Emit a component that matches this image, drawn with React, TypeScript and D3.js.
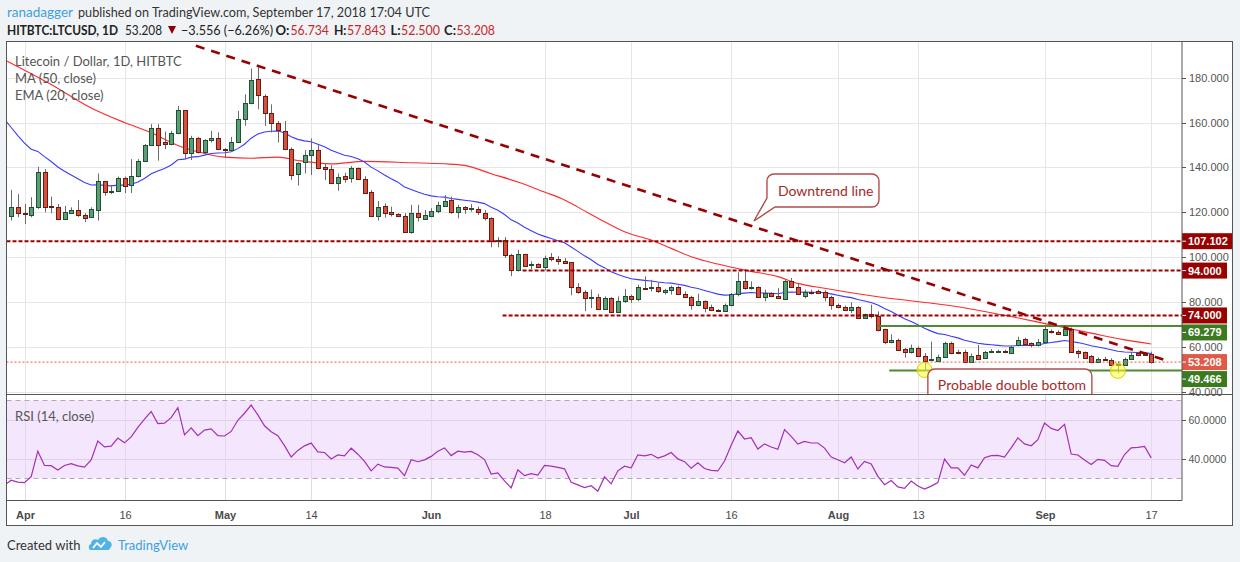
import React from 'react';
import * as d3 from 'd3';

// ---------- DATA ----------
const firstCandleDate = '2018-03-30';

const opens = [
  118.5,122.5,119.6,119.0,122.5,138.1,123.0,122.5,117.0,119.7,
  121.0,119.0,118.1,121.0,133.8,129.3,129.7,135.3,132.3,136.0,
  143.0,150.1,157.5,151.4,150.4,155.3,165.5,146.4,153.3,146.7,
  152.1,153.3,148.1,147.7,151.4,161.5,168.9,179.3,171.9,164.1,
  159.7,156.3,148.1,137.0,142.2,145.5,147.7,140.0,139.1,132.9,
  136.1,135.1,139.6,134.7,128.9,118.5,123.0,120.0,119.1,118.5,
  111.4,119.6,117.0,118.5,120.6,123.0,125.5,120.3,122.2,121.6,
  121.3,119.6,117.3,107.3,107.7,101.0,94.1,101.5,96.4,97.0,
  95.6,99.9,99.3,98.4,97.8,86.7,84.4,81.6,82.2,76.9,
  81.8,75.6,80.6,82.8,81.3,86.4,86.1,86.7,84.4,85.2,
  86.7,83.7,82.2,78.7,80.4,77.8,76.6,76.0,78.7,83.7,
  89.3,86.1,86.7,82.2,84.0,82.8,81.3,89.3,86.7,82.8,
  84.6,84.7,84.3,82.2,78.8,77.8,76.4,77.8,72.7,74.7,
  73.9,67.9,62.0,63.1,59.1,57.6,59.4,56.1,54.0,53.9,
  55.4,61.6,57.9,57.9,53.2,56.4,55.0,57.6,57.9,58.2,
  57.2,60.6,63.5,61.6,60.9,62.2,67.1,66.7,65.3,67.9,
  58.2,57.6,55.7,53.2,54.6,54.2,52.3,52.0,54.5,57.2,
  56.5,56.734,
];
const highs = [
  130.0,128.1,123.7,126.7,140.3,139.3,127.0,123.7,122.8,122.2,
  125.5,119.6,122.2,137.3,133.8,131.9,135.9,135.9,143.7,143.7,
  150.4,159.3,159.3,156.0,156.3,167.4,165.5,154.1,153.6,152.6,
  156.3,155.6,148.6,153.6,165.2,172.6,184.1,184.7,172.6,168.1,
  160.7,160.7,148.9,142.2,147.7,152.9,149.9,141.8,141.0,137.3,
  137.6,140.6,140.0,136.1,129.9,125.0,124.0,122.5,119.6,119.6,
  123.3,123.3,121.0,121.8,124.7,127.7,127.0,123.3,122.8,123.7,
  122.5,121.0,117.8,108.9,108.9,101.5,103.3,101.5,98.1,97.3,
  100.6,101.8,100.4,99.6,97.8,88.4,85.2,85.5,83.6,82.5,
  82.2,82.5,85.8,83.3,87.7,91.4,89.9,88.7,85.9,87.3,
  87.3,84.7,82.8,83.7,80.7,78.8,76.9,79.3,84.0,93.2,
  94.7,89.2,87.0,85.5,84.3,86.2,89.9,90.7,88.4,85.5,
  85.5,85.5,85.2,82.8,79.3,78.4,79.9,78.1,74.8,78.8,
  75.8,68.1,65.6,63.7,59.5,61.0,60.2,57.2,62.3,56.5,
  62.3,62.3,58.7,58.7,57.0,60.9,58.2,59.0,58.7,58.7,
  60.5,64.5,64.0,62.0,63.5,69.3,67.8,67.4,69.5,68.6,
  58.7,57.9,56.4,55.2,55.5,54.9,53.5,55.2,57.5,57.8,
  57.6,57.843,
];
const lows = [
  116.3,117.8,114.8,117.8,121.5,120.0,119.6,116.6,116.6,119.3,
  118.0,115.6,117.8,116.3,127.4,128.1,129.4,128.6,128.6,135.6,
  142.7,149.6,143.0,148.1,149.9,154.8,143.7,143.3,146.2,146.2,
  151.1,147.7,144.1,147.0,151.1,158.5,168.1,165.9,158.5,155.6,
  151.1,147.7,134.4,131.9,137.3,136.6,139.1,134.4,132.6,129.6,
  133.2,133.2,134.4,128.1,118.1,116.3,117.6,118.1,117.8,111.0,
  110.4,115.9,116.6,117.8,119.6,122.5,119.3,117.3,119.3,120.3,
  118.8,116.3,104.4,104.4,99.6,91.5,93.6,95.6,94.7,95.1,
  94.1,98.1,96.6,97.0,83.0,83.7,75.9,77.3,76.6,76.6,
  75.4,75.1,79.6,79.6,80.3,85.5,84.7,84.0,83.3,83.3,
  83.3,81.8,76.6,78.1,75.4,75.9,75.7,75.7,78.1,82.5,
  85.5,85.5,81.8,80.3,82.2,81.5,81.0,86.2,83.3,81.6,
  83.3,83.7,80.3,76.6,77.2,75.9,75.1,72.4,72.4,72.7,
  66.9,61.2,61.6,58.2,55.2,57.0,55.7,49.8,53.7,53.5,
  55.2,56.7,56.7,53.0,53.0,54.2,54.6,57.2,57.6,57.2,
  56.8,60.2,60.8,59.8,60.2,61.9,65.9,65.5,64.9,57.5,
  54.9,54.9,52.7,52.7,53.8,51.5,48.3,51.7,54.2,55.8,
  55.9,52.5,
];
const closes = [
  122.5,119.7,119.1,122.2,138.1,122.5,122.2,117.0,119.9,121.0,
  118.8,117.5,121.5,133.8,129.2,129.7,135.3,131.9,136.0,143.0,
  150.1,157.5,150.1,150.4,155.3,165.5,146.4,153.3,146.7,152.1,
  153.3,148.0,147.7,151.4,161.5,168.9,178.8,172.3,164.4,159.7,
  156.6,148.1,136.6,141.8,145.5,147.7,139.6,139.1,132.9,135.6,
  134.7,139.6,134.7,128.4,118.5,122.5,119.6,119.1,118.5,111.1,
  119.6,117.8,118.8,120.6,123.3,125.0,120.0,122.2,121.6,121.9,
  120.0,117.3,107.3,107.7,101.0,94.1,101.5,96.1,97.0,95.6,
  99.6,99.1,98.2,97.3,86.7,84.3,81.6,82.2,76.9,81.8,
  75.6,80.6,82.5,81.3,86.7,86.1,86.7,84.7,85.5,86.7,
  83.6,82.2,78.7,80.4,77.3,76.3,76.0,78.7,83.7,89.3,
  86.2,86.7,82.1,84.0,82.7,81.8,89.3,86.7,83.6,84.6,
  84.0,84.0,82.2,78.7,77.6,76.3,77.8,72.7,74.7,73.6,
  67.4,62.0,63.1,58.7,57.6,59.4,56.1,53.9,54.6,55.4,
  61.6,57.2,57.2,53.2,56.1,54.6,57.6,58.2,58.3,57.6,
  60.1,63.1,61.2,60.6,62.3,67.9,66.4,65.8,67.9,57.8,
  57.4,55.2,53.2,54.6,54.2,52.0,51.7,54.6,56.4,56.5,
  56.764,53.208,
];

// MA(50): candle index -> value
const ma50Index = [-1, 6, 12, 17, 21, 25, 28, 32, 36, 40, 43, 48, 53, 60, 65, 68, 72, 76, 80, 83, 85, 89, 92, 96, 99, 102, 106, 110, 115, 118, 122, 126, 130, 142, 150, 156, 162, 167, 171];
const ma50Values = [188, 177, 166.5, 160, 155.5, 149.8, 147, 144.6, 144.1, 144.6, 143.1, 141.6, 142.7, 142.1, 141.6, 140.9, 137.2, 133.5, 129, 125.5, 122.3, 115.8, 111.3, 107.6, 103.9, 100.2, 96.9, 94.2, 91.3, 88.3, 86.1, 84.1, 82.3, 77.9, 73.5, 69.8, 66.1, 63.1, 61.3];

// seeds of the indicators (state on the day before the first candle)
const emaSeed = 161.5;
const rsiSeedPrevClose = 119.6;
const rsiSeedGain = 1.658;
const rsiSeedLoss = 4.6;

const priceTicks = [40, 60, 80, 100, 120, 140, 160, 180];
const rsiTicks = [40, 60];
const timeTickDates = ['2018-04-01', '2018-04-16', '2018-05-01', '2018-05-14', '2018-06-01', '2018-06-18', '2018-07-01', '2018-07-16', '2018-08-01', '2018-08-13', '2018-09-01', '2018-09-17'];
const timeTickLabels = ['Apr', '16', 'May', '14', 'Jun', '18', 'Jul', '16', 'Aug', '13', 'Sep', '17'];
const timeTickIsMonth = [true, false, true, false, true, false, true, false, true, false, true, false];

// horizontal levels
const levelPrices = [107.102, 94.0, 74.0, 69.279, 49.466];
const levelStarts = ['2018-03-25', '2018-06-14T17:00:00Z', '2018-06-11T17:00:00Z', '2018-08-07T00:00:00Z', '2018-08-08T17:00:00Z'];
const levelKinds = ['res', 'res', 'res', 'sup', 'sup'];
const lastPrice = 53.208;

// downtrend line anchors
const trendDates = ['2018-04-26T17:00:00Z', '2018-09-19T09:00:00Z'];
const trendPrices = [194.2, 53.8];

// annotations
const circleDates = ['2018-08-14', '2018-09-12'];
const circlePrices = [49.7, 49.3];
const calloutText = 'Downtrend line';
const calloutTipDate = '2018-07-19T10:00:00Z';
const calloutTipPrice = 116.1;
const noteText = 'Probable double bottom';
const noteDate = '2018-08-14T12:00:00Z';
const notePrice = 50.1;

// ---------- LAYOUT ----------
const W = 1240;
const H = 562;
const PL = 6.5;
const PR = 1182;
const FR = 1232.5;
const MT = 41.5;
const MB = 394.5;
const RB = 500.5;
const FB = 525.5;

const FONT = 'Lato, "Open Sans", sans-serif';
const AXFONT = '"Liberation Sans", Arial, sans-serif';

const UP_FILL = '#5a9e77';
const UP_STROKE = '#1f5130';
const DN_FILL = '#d6503d';
const DN_STROKE = '#6e1a10';
const WICK = '#6b6b6b';
const RES = '#990000';
const SUP = '#3b7a1f';

const toDate = (s: string) => new Date(s.length === 10 ? s + 'T00:00:00Z' : s);

export default function App() {
  const start = toDate(firstCandleDate);
  const dates = closes.map((_, k) => d3.utcDay.offset(start, k));
  const x = d3.scaleUtc().domain([toDate('2018-04-01'), toDate('2018-09-17')]).range([24.5, 1151.2]);
  const y = d3.scaleLinear().domain([40, 180]).range([391.7, 77.7]);
  const yr = d3.scaleLinear().domain([30, 70]).range([478.3, 400.3]);
  const dateOf = (k: number) => d3.utcDay.offset(start, k);

  // EMA 20
  const alpha = 2 / 21;
  const ema: [number, number][] = [[-1, emaSeed]];
  let e = emaSeed;
  closes.forEach((c, k) => {
    e = e + alpha * (c - e);
    ema.push([k, e]);
  });
  // RSI 14 (Wilder)
  let g = rsiSeedGain, l = rsiSeedLoss, prev = rsiSeedPrevClose;
  const rsi: [number, number][] = [[-1, 100 - 100 / (1 + g / l)]];
  closes.forEach((c, k) => {
    const ch = c - prev;
    g = (g * 13 + Math.max(ch, 0)) / 14;
    l = (l * 13 + Math.max(-ch, 0)) / 14;
    rsi.push([k, 100 - 100 / (1 + g / l)]);
    prev = c;
  });

  const lineIdx = d3.line<[number, number]>().x((d) => x(dateOf(d[0]))).y((d) => y(d[1]));
  const lineMA = d3.line<[number, number]>().x((d) => x(dateOf(d[0]))).y((d) => y(d[1])).curve(d3.curveMonotoneX);
  const lineRsi = d3.line<[number, number]>().x((d) => x(dateOf(d[0]))).y((d) => yr(d[1]));
  const maPts: [number, number][] = ma50Index.map((k, i) => [k, ma50Values[i]]);

  const tickXs = timeTickDates.map((s) => Math.round(x(toDate(s))) + 0.5);

  // callout geometry
  const tipX = x(toDate(calloutTipDate));
  const tipY = y(calloutTipPrice);
  const bL = tipX + 13, bT = tipY - 47, bR = bL + 112, bB = bT + 33, r = 7;
  const calloutPath = `M${bL + r},${bT} H${bR - r} A${r},${r} 0 0 1 ${bR},${bT + r} V${bB - r} A${r},${r} 0 0 1 ${bR - r},${bB} H${bL + 8} L${tipX},${tipY} L${bL},${bB - 9} V${bT + r} A${r},${r} 0 0 1 ${bL + r},${bT} Z`;
  const nL = x(toDate(noteDate));
  const nT = y(notePrice);
  const nW = 164;
  const notePath = `M${nL},${nT + 30} V${nT + r} A${r},${r} 0 0 1 ${nL + r},${nT} H${nL + nW - r} A${r},${r} 0 0 1 ${nL + nW},${nT + r} V${nT + 30}`;

  const fmt3 = d3.format('.3f');
  const fmt4 = d3.format('.4f');

  // axis price labels, stacked so they do not overlap
  const boxes = [
    ...levelPrices.map((p, i) => ({ p, color: levelKinds[i] === 'res' ? RES : SUP, cy: y(p) })),
    { p: lastPrice, color: '#e05a47', cy: y(lastPrice) },
  ].sort((a, b) => a.cy - b.cy);
  for (let i = 1; i < boxes.length; i++) {
    if (boxes[i].cy < boxes[i - 1].cy + 17) boxes[i].cy = boxes[i - 1].cy + 17;
  }

  const headerPieces = [
    { t: 'HITBTC:LTCUSD, 1D', x0: 7, w: 111, bold: true, fill: '#222' },
    { t: '53.208', x0: 125, w: 37, bold: false, fill: '#222' },
    { t: '−3.556 (−6.26%)', x0: 181, w: 92, bold: false, fill: '#222' },
    { t: 'O:', x0: 275.5, w: 14, bold: true, fill: '#222' },
    { t: '56.734', x0: 290.5, w: 38.5, bold: false, fill: '#c62828' },
    { t: 'H:', x0: 334, w: 12.5, bold: true, fill: '#222' },
    { t: '57.843', x0: 347, w: 39, bold: false, fill: '#c62828' },
    { t: 'L:', x0: 390.5, w: 10, bold: true, fill: '#222' },
    { t: '52.500', x0: 401, w: 39, bold: false, fill: '#c62828' },
    { t: 'C:', x0: 444, w: 12, bold: true, fill: '#222' },
    { t: '53.208', x0: 456.5, w: 38.5, bold: false, fill: '#c62828' },
  ];

  return (
    <div style={{ position: 'fixed', left: 0, top: 0, width: W, height: H, background: '#f0f3f6' }}>
      <svg width={W} height={H} style={{ display: 'block' }}>
        <defs>
          <clipPath id="mainClip"><rect x={PL} y={MT} width={PR - PL} height={MB - MT} /></clipPath>
          <clipPath id="rsiClip"><rect x={PL} y={MB} width={PR - PL} height={RB - MB} /></clipPath>
        </defs>
        <rect x={0} y={0} width={W} height={H} fill="#f0f3f6" />

        {/* header */}
        <text x={7} y={12} dominantBaseline="central" fontFamily={FONT} fontSize={13} fill="#3d9fe0" textLength={66} lengthAdjust="spacingAndGlyphs">ranadagger</text>
        <text x={78} y={12} dominantBaseline="central" fontFamily={FONT} fontSize={13} fill="#333" textLength={352} lengthAdjust="spacingAndGlyphs">published on TradingView.com, September 17, 2018 17:04 UTC</text>
        {headerPieces.map((hp, i) => (
          <text key={'hp' + i} x={hp.x0} y={30} dominantBaseline="central" fontFamily={FONT} fontSize={13}
            fontWeight={hp.bold ? 'bold' : 'normal'} fill={hp.fill} textLength={hp.w} lengthAdjust="spacingAndGlyphs">{hp.t}</text>
        ))}
        <path d="M168,26 L176,26 L172,34 Z" fill="#8b0000" />

        {/* chart frame */}
        <rect x={PL} y={MT} width={FR - PL} height={FB - MT} fill="#fff" />

        {/* main grid */}
        <g stroke="#e6e6e6" strokeWidth={1}>
          {priceTicks.map((p) => (
            <line key={'hg' + p} x1={PL} x2={PR} y1={Math.round(y(p)) + 0.5} y2={Math.round(y(p)) + 0.5} />
          ))}
          {tickXs.map((tx, i) => (
            <line key={'vg' + i} x1={tx} x2={tx} y1={MT} y2={MB} />
          ))}
        </g>

        <g clipPath="url(#mainClip)">
          {/* moving averages */}
          <path d={lineMA(maPts) || ''} fill="none" stroke="#ff2a2a" strokeWidth={1.1} />
          <path d={lineIdx(ema) || ''} fill="none" stroke="#3a3aff" strokeWidth={1.1} />

          {/* candles */}
          {closes.map((c, k) => {
            const o = opens[k];
            const up = c >= o;
            const cx = Math.round(x(dates[k]));
            const yt = Math.round(y(Math.max(o, c)));
            const yb = Math.round(y(Math.min(o, c)));
            return (
              <g key={'c' + k}>
                <line x1={cx + 0.5} x2={cx + 0.5} y1={y(highs[k])} y2={y(lows[k])} stroke={WICK} strokeWidth={1} />
                <rect x={cx - 1.5} y={yt + 0.5} width={4} height={Math.max(1, yb - yt)} fill={up ? UP_FILL : DN_FILL} stroke={up ? UP_STROKE : DN_STROKE} strokeWidth={1} />
              </g>
            );
          })}

          {/* last price line */}
          <line x1={PL} x2={PR} y1={y(lastPrice)} y2={y(lastPrice)} stroke="#e0533f" strokeWidth={1} strokeDasharray="2,2" />

          {/* horizontal levels */}
          {levelPrices.map((p, i) => (
            <line key={'lv' + i} x1={Math.max(PL, x(toDate(levelStarts[i])))} x2={PR} y1={y(p)} y2={y(p)}
              stroke={levelKinds[i] === 'res' ? RES : '#4f8a32'} strokeWidth={2}
              strokeDasharray={levelKinds[i] === 'res' ? '4,2' : undefined} />
          ))}

          {/* downtrend line */}
          <line x1={x(toDate(trendDates[0]))} y1={y(trendPrices[0])} x2={x(toDate(trendDates[1]))} y2={y(trendPrices[1])}
            stroke="#990000" strokeWidth={2.6} strokeDasharray="9,7" />

          {/* circles */}
          {circleDates.map((s, i) => (
            <circle key={'ci' + i} cx={x(toDate(s))} cy={y(circlePrices[i])} r={7.5} fill="#ffff33" fillOpacity={0.55} stroke="#d4d400" strokeWidth={1} />
          ))}

          {/* callouts */}
          <path d={calloutPath} fill="#fff" stroke="#b24c4c" strokeWidth={1.4} />
          <text x={bL + 11} y={(bT + bB) / 2} dominantBaseline="central" fontFamily={FONT} fontSize={14} fill="#a52a2a">{calloutText}</text>
          <path d={notePath + ` V${nT + 30} Z`} fill="#fff" stroke="none" />
          <path d={notePath} fill="none" stroke="#b24c4c" strokeWidth={1.4} />
          <text x={nL + 10} y={nT + 15} dominantBaseline="central" fontFamily={FONT} fontSize={14} fill="#a52a2a">{noteText}</text>
        </g>

        {/* legend */}
        <g fontFamily={FONT} fontSize={13} fill="#555">
          <text x={15} y={61} dominantBaseline="central">Litecoin / Dollar, 1D, HITBTC</text>
          <text x={15} y={77.5} dominantBaseline="central">MA (50, close)</text>
          <text x={15} y={94.5} dominantBaseline="central">EMA (20, close)</text>
        </g>

        {/* RSI panel */}
        <rect x={PL} y={yr(70)} width={PR - PL} height={yr(30) - yr(70)} fill="#f4e7fd" />
        <g stroke="#ddd0e8" strokeWidth={1}>
          {rsiTicks.map((v) => (
            <line key={'rg' + v} x1={PL} x2={PR} y1={Math.round(yr(v)) + 0.5} y2={Math.round(yr(v)) + 0.5} />
          ))}
          {tickXs.map((tx, i) => (
            <line key={'rvg' + i} x1={tx} x2={tx} y1={MB} y2={RB} stroke="#e2dae8" />
          ))}
        </g>
        <g stroke="#b4a6b9" strokeWidth={1} strokeDasharray="5,4">
          <line x1={PL} x2={PR} y1={Math.round(yr(70)) + 0.5} y2={Math.round(yr(70)) + 0.5} />
          <line x1={PL} x2={PR} y1={Math.round(yr(30)) + 0.5} y2={Math.round(yr(30)) + 0.5} />
        </g>
        <g clipPath="url(#rsiClip)">
          <path d={lineRsi(rsi) || ''} fill="none" stroke="#a22fb6" strokeWidth={1.2} />
        </g>
        <text x={15} y={416} dominantBaseline="central" fontFamily={FONT} fontSize={13} fill="#555">RSI (14, close)</text>

        {/* price axis */}
        <g fontFamily={AXFONT} fontSize={11} fill="#555">
          {priceTicks.map((p) => (
            <g key={'pt' + p}>
              <line x1={PR} x2={PR + 4} y1={Math.round(y(p)) + 0.5} y2={Math.round(y(p)) + 0.5} stroke="#555" />
              <text x={1189} y={y(p)} dominantBaseline="central">{fmt3(p)}</text>
            </g>
          ))}
          {rsiTicks.map((v) => (
            <g key={'rt' + v}>
              <line x1={PR} x2={PR + 4} y1={Math.round(yr(v)) + 0.5} y2={Math.round(yr(v)) + 0.5} stroke="#555" />
              <text x={1188.5} y={yr(v)} dominantBaseline="central" fontSize={10.5}>{fmt4(v)}</text>
            </g>
          ))}
        </g>
        {boxes.map((b, i) => {
          const label = fmt3(b.p);
          const bw = label.length >= 7 ? 50 : 45;
          return (
            <g key={'pb' + i}>
              <rect x={PR} y={b.cy - 8} width={bw} height={16} fill={b.color} />
              <line x1={PR} x2={PR + 4} y1={b.cy} y2={b.cy} stroke="#fff" />
              <text x={1188} y={b.cy} dominantBaseline="central" fontFamily={AXFONT} fontSize={11} fontWeight="bold" fill="#fff">{label}</text>
            </g>
          );
        })}

        {/* time axis */}
        <g fontFamily={AXFONT} fontSize={11} fill="#4a4a4a" textAnchor="middle">
          {tickXs.map((tx, i) => (
            <text key={'tt' + i} x={tx} y={515} dominantBaseline="central" fontWeight={timeTickIsMonth[i] ? 'bold' : 'normal'}>{timeTickLabels[i]}</text>
          ))}
        </g>

        {/* frame lines */}
        <g stroke="#555" strokeWidth={1} fill="none">
          <rect x={PL} y={MT} width={FR - PL} height={FB - MT} />
          <line x1={PL} x2={FR} y1={MB} y2={MB} />
          <line x1={PL} x2={PR} y1={RB} y2={RB} />
          <line x1={PR} x2={PR} y1={MT} y2={RB} />
        </g>

        {/* footer */}
        <text x={7} y={545} dominantBaseline="central" fontFamily={FONT} fontSize={13} fill="#333">Created with</text>
        <g transform="translate(88,536)">
          <path d="M3,14 C0,14 0,9 3,8 C3,4 7,2 10,4 C12,0 19,0 20,5 C24,5 25,10 22,12 C22,13 21,14 20,14 Z" fill="#4fb3e8" />
          <polyline points="5,12 9,7 13,11 17,6" fill="none" stroke="#fff" strokeWidth={1.8} />
        </g>
        <text x={118} y={545} dominantBaseline="central" fontFamily={FONT} fontSize={13} fill="#3d9fe0">TradingView</text>
      </svg>
    </div>
  );
}
